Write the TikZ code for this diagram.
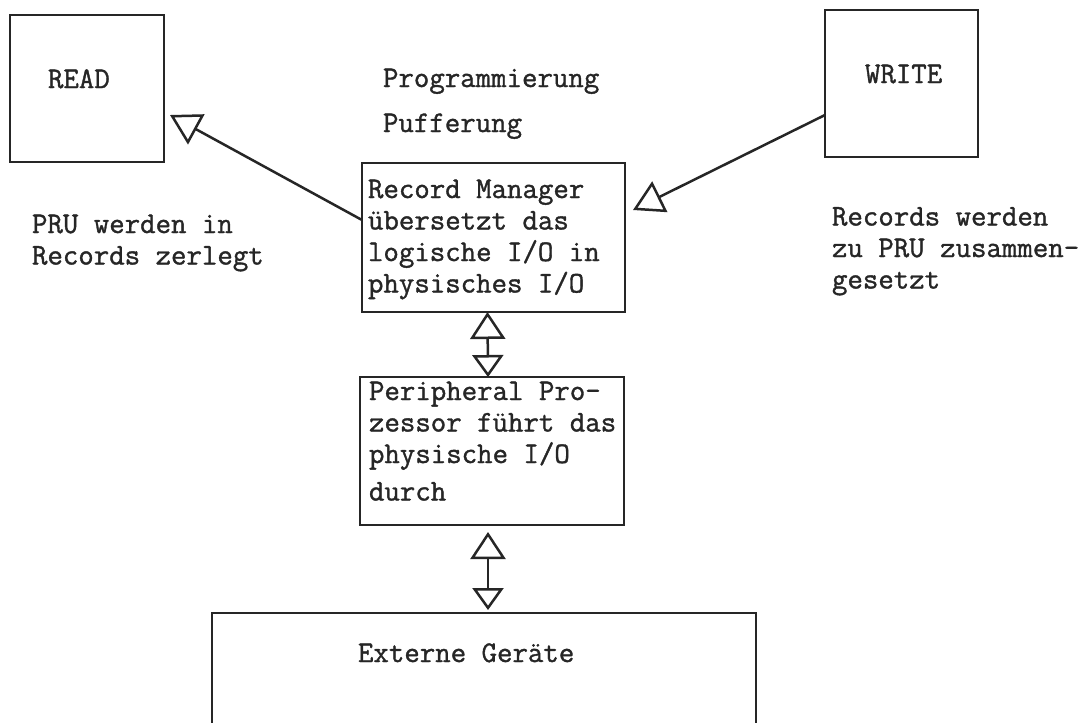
\documentclass[tikz,border=0pt]{standalone}
\usepackage{fontspec}
\newfontfamily\tw{Latin Modern Mono}[FakeBold=1.2]
\usetikzlibrary{arrows.meta}
\definecolor{ink}{HTML}{262626}
\tikzset{
  box/.style={draw=ink, line width=2.5pt, inner sep=0pt, outer sep=0pt, anchor=north west},
  txt/.style={anchor=base west, inner sep=0pt, outer sep=0pt, text=ink, font=\tw\fontsize{30}{31.5}\selectfont},
  conn/.style={draw=ink, line width=2.5pt},
  headR/.style={-{Triangle[open, length=30pt, width=34pt]}},
  dblA/.style={{Triangle[open, length=27pt, width=35pt]}-{Triangle[open, length=22pt, width=31pt]}},
}
\begin{document}
\begin{tikzpicture}[x=1pt,y=-1pt]
\useasboundingbox (0,0) rectangle (1090,723);
\fill[white] (0,0) rectangle (1090,723);
\clip (0,0) rectangle (1090,723);
% boxes
\node[box, minimum width=154pt, minimum height=147pt] (read) at (10,15) {};
\node[box, minimum width=153pt, minimum height=147pt] (write) at (825,10) {};
\node[box, minimum width=263pt, minimum height=149pt] (rm) at (362,163) {};
\node[box, minimum width=264pt, minimum height=148pt] (pp) at (360,377) {};
\node[box, minimum width=544pt, minimum height=130pt] (ext) at (212,613) {};
% texts
\node[txt] (readT) at (48,88) {READ};
\node[txt] (writeT) at (865,83) {WRITE};
\node[txt] (prog) at (383,87) {Programmierung};
\node[txt] (puff) at (383,132) {Pufferung};
\node[txt] (rmT) at (368,198) {\parbox[t]{300pt}{Record Manager\\übersetzt das\\logische I/O in\\physisches I/O}};
\node[txt] (ppT) at (369,400) {\parbox[t]{300pt}{Peripheral Pro-\\zessor führt das\\physische I/O\\[6pt]durch}};
\node[txt] (extT) at (358,662) {Externe Geräte};
\node[txt] (readN) at (32,233) {\parbox[t]{300pt}{PRU werden in\\Records zerlegt}};
\node[txt] (writeN) at (832,225.5) {\parbox[t]{300pt}{Records werden\\zu PRU zusammen-\\gesetzt}};
% connectors
\draw[conn, headR] ([yshift=17.5pt]rm.west) -- ([xshift=6pt,yshift=-26.5pt]read.east);
\draw[conn, headR] ([yshift=-31.5pt]write.west) -- ([xshift=8pt,yshift=27.5pt]rm.east);
\draw[conn, dblA] ([xshift=-6pt]rm.south) -- ([xshift=-4pt]pp.north);
\draw[conn, dblA] ([xshift=-4pt,yshift=-7pt]pp.south) -- ([xshift=4pt,yshift=3pt]ext.north);
\end{tikzpicture}
\end{document}
